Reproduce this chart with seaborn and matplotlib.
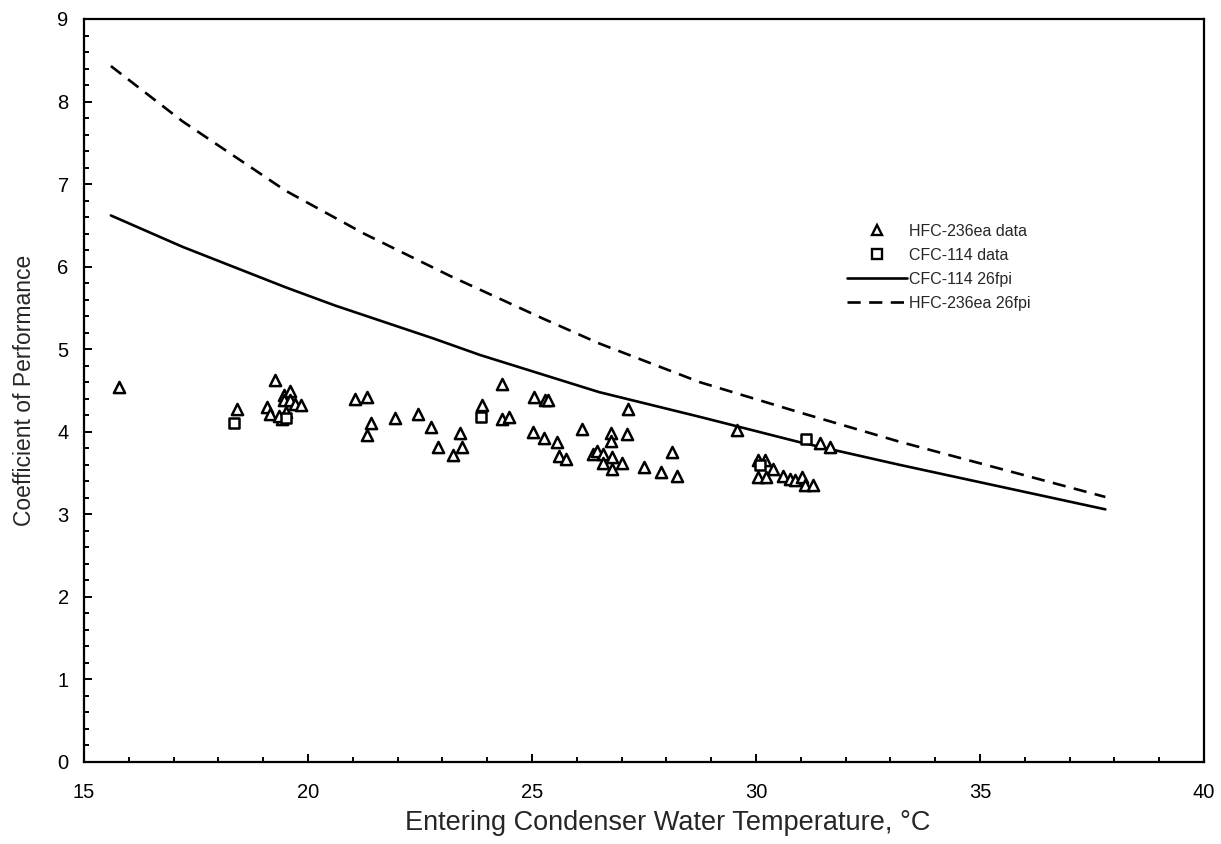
import matplotlib
matplotlib.use("Agg")
import matplotlib.pyplot as plt
from matplotlib.ticker import MultipleLocator
from matplotlib.lines import Line2D
import seaborn as sns
import pandas as pd

# ---- data ----
hfc_x = [15.78, 18.42, 19.26, 19.09, 19.15, 19.46, 19.60, 19.46, 19.60, 19.71, 19.84, 19.52, 19.41, 19.36,
         21.05, 21.31, 21.41, 21.31, 21.94, 22.46, 22.75, 22.91, 23.23, 23.44, 23.39, 23.88, 24.32, 24.32,
         24.49, 25.05, 25.29, 25.35, 25.03, 25.27, 25.55, 25.60, 25.77, 26.12, 26.37, 26.46, 26.59, 26.76,
         26.76, 26.59, 26.78, 26.78, 27.00, 27.15, 27.13, 27.51, 27.89, 28.12, 28.23, 29.57, 31.44, 31.65,
         30.05, 30.20, 30.39, 30.05, 30.22, 30.61, 30.76, 30.87, 31.02, 31.09, 31.28]
hfc_y = [4.54, 4.28, 4.63, 4.30, 4.22, 4.44, 4.49, 4.38, 4.38, 4.34, 4.33, 4.24, 4.16, 4.19,
         4.40, 4.42, 4.10, 3.96, 4.17, 4.22, 4.06, 3.81, 3.72, 3.81, 3.99, 4.32, 4.58, 4.16,
         4.18, 4.42, 4.39, 4.38, 4.00, 3.92, 3.88, 3.71, 3.67, 4.03, 3.73, 3.77, 3.73, 3.99,
         3.89, 3.62, 3.69, 3.55, 3.62, 4.27, 3.97, 3.57, 3.51, 3.75, 3.47, 4.02, 3.86, 3.82,
         3.66, 3.66, 3.55, 3.45, 3.45, 3.47, 3.43, 3.41, 3.45, 3.35, 3.35]

cfc_x = [18.35, 19.50, 23.86, 30.09, 31.12]
cfc_y = [4.10, 4.17, 4.18, 3.60, 3.91]

cfc_line_x = [15.6, 17.2, 19.5, 20.6, 22.8, 23.84, 26.5, 28.75, 31.0, 33.2, 37.8]
cfc_line_y = [6.62, 6.24, 5.75, 5.53, 5.13, 4.93, 4.48, 4.18, 3.87, 3.60, 3.06]

hfc_line_x = [15.6, 17.2, 19.5, 21.25, 23.2, 25.25, 26.5, 28.75, 31.0, 33.2, 37.8]
hfc_line_y = [8.43, 7.76, 6.92, 6.40, 5.88, 5.37, 5.07, 4.60, 4.23, 3.88, 3.21]

labels = ["HFC-236ea data", "CFC-114 data", "CFC-114 26fpi", "HFC-236ea 26fpi"]
x_label = "Entering Condenser Water Temperature, °C"
y_label = "Coefficient of Performance"

# ---- style ----
sns.set_style("ticks")
plt.rcParams["font.family"] = ["Liberation Sans", "DejaVu Sans"]

fig = plt.figure(figsize=(12.21, 8.44), dpi=100)
ax = fig.add_axes([0.0688, 0.0972, 0.9172, 0.8803])

df_hfc = pd.DataFrame({"x": hfc_x, "y": hfc_y})
df_cfc = pd.DataFrame({"x": cfc_x, "y": cfc_y})
df_cl = pd.DataFrame({"x": cfc_line_x, "y": cfc_line_y})
df_hl = pd.DataFrame({"x": hfc_line_x, "y": hfc_line_y})

dash = (0, (5, 3.2))
sns.lineplot(data=df_cl, x="x", y="y", ax=ax, color="black", linewidth=1.9,
             sort=False, estimator=None)
sns.lineplot(data=df_hl, x="x", y="y", ax=ax, color="black", linewidth=1.9,
             linestyle=dash, sort=False, estimator=None)
sns.scatterplot(data=df_hfc, x="x", y="y", ax=ax, marker="^", s=65,
                facecolor="white", edgecolor="black", linewidth=1.8, zorder=3)
sns.scatterplot(data=df_cfc, x="x", y="y", ax=ax, marker="s", s=58,
                facecolor="white", edgecolor="black", linewidth=1.8, zorder=3)

ax.set_xlim(15, 40)
ax.set_ylim(0, 9)
ax.xaxis.set_major_locator(MultipleLocator(5))
ax.xaxis.set_minor_locator(MultipleLocator(1))
ax.yaxis.set_major_locator(MultipleLocator(1))
ax.yaxis.set_minor_locator(MultipleLocator(0.2))
ax.tick_params(which="both", direction="in", top=False, right=False, colors="black",
               labelsize=14.5, width=1.4)
ax.tick_params(which="major", length=6)
ax.tick_params(which="minor", length=3.5)
ax.tick_params(axis="x", which="major", pad=15)
ax.tick_params(axis="y", which="major", pad=11)
for sp in ax.spines.values():
    sp.set_visible(True)
    sp.set_linewidth(1.6)
    sp.set_color("black")

ax.set_xlabel(x_label, fontsize=19.5)
ax.set_ylabel(y_label, fontsize=16.5)
ax.xaxis.set_label_coords(0.521, -0.064)
ax.yaxis.set_label_coords(-0.043, 0.5)

handles = [
    Line2D([], [], linestyle="none", marker="^", markersize=7, markerfacecolor="white",
           markeredgecolor="black", markeredgewidth=1.7),
    Line2D([], [], linestyle="none", marker="s", markersize=6.5, markerfacecolor="white",
           markeredgecolor="black", markeredgewidth=1.7),
    Line2D([], [], color="black", linewidth=1.9),
    Line2D([], [], color="black", linewidth=1.9, linestyle=dash),
]
ax.legend(handles, labels, loc="upper left", bbox_to_anchor=(0.681, 0.724),
          frameon=False, fontsize=11.5, handlelength=3.75, handletextpad=0.15,
          labelspacing=0.56, borderpad=0, borderaxespad=0)

fig.savefig("out.png", dpi=100, facecolor="white")
